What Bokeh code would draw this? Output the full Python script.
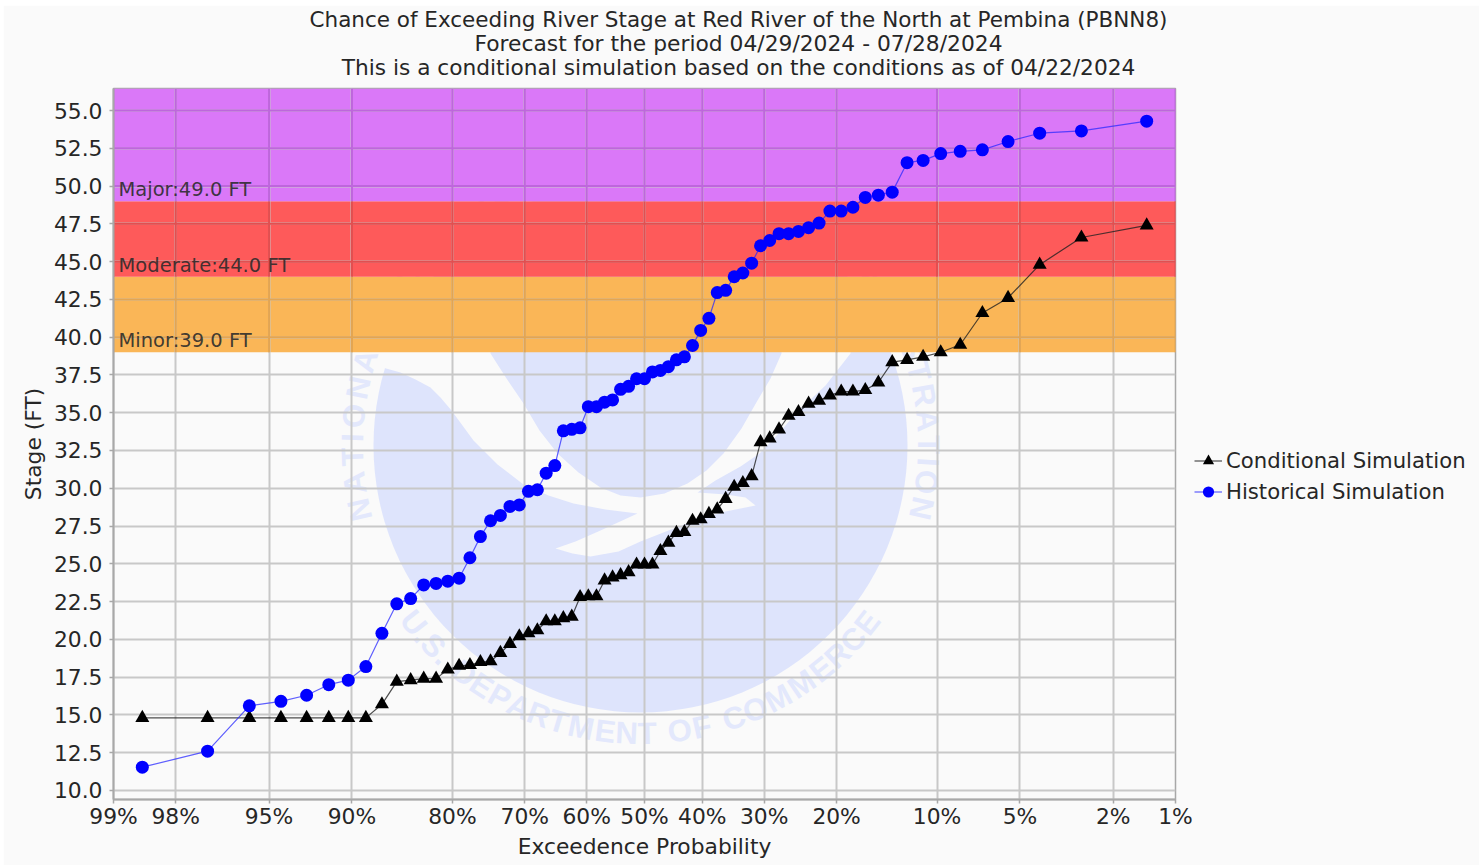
from statistics import NormalDist
from math import cos, sin, radians
from bokeh.plotting import figure
from bokeh.models import Range1d, FixedTicker, Label, Legend, LegendItem
from bokeh.core.properties import value
from bokeh.embed import file_html
from bokeh.resources import INLINE

TITLES = ["Chance of Exceeding River Stage at Red River of the North at Pembina (PBNN8)",
          "Forecast for the period 04/29/2024 - 07/28/2024",
          "This is a conditional simulation based on the conditions as of 04/22/2024"]
TITLE_SIZE = ["21.5px", "21.8px", "21.7px"]
PROB_TICKS = [99, 98, 95, 90, 80, 70, 60, 50, 40, 30, 20, 10, 5, 2, 1]
STAGE_TICKS = [10.0, 12.5, 15.0, 17.5, 20.0, 22.5, 25.0, 27.5, 30.0, 32.5, 35.0, 37.5,
               40.0, 42.5, 45.0, 47.5, 50.0, 52.5, 55.0]
THRESH_NAMES = ["Minor", "Moderate", "Major"]
THRESH_LOW = [39.0, 44.0, 49.0]
THRESH_COLORS = ["#FAB657", "#FE5A5A", "#DA78F8"]
THRESH_GRID = ["#E3A552", "#E24F50", "#BE66DC"]

# exceedance probability (%) of each point, as read along the axis
prob = [98.61, 97.22, 95.83, 94.44, 93.06, 91.67, 90.28, 88.89, 87.5, 86.11, 84.72, 83.33,
        81.94, 80.56, 79.17, 77.78, 76.39, 75.0, 73.61, 72.22, 70.83, 69.44, 68.06, 66.67,
        65.28, 63.89, 62.5, 61.11, 59.72, 58.33, 56.94, 55.56, 54.17, 52.78, 51.39, 50.0,
        48.61, 47.22, 45.83, 44.44, 43.06, 41.67, 40.28, 38.89, 37.5, 36.11, 34.72, 33.33,
        31.94, 30.56, 29.17, 27.78, 26.39, 25.0, 23.61, 22.22, 20.83, 19.44, 18.06, 16.67,
        15.28, 13.89, 12.5, 11.11, 9.72, 8.33, 6.94, 5.56, 4.17, 2.78, 1.39]
conditional = [14.8, 14.8, 14.8, 14.8, 14.8, 14.8, 14.8, 14.8, 15.7, 17.2, 17.3, 17.4, 17.4,
               18.0, 18.25, 18.3, 18.5, 18.55, 19.1, 19.7, 20.2, 20.4, 20.6, 21.2, 21.2, 21.4,
               21.5, 22.8, 22.85, 22.85, 23.9, 24.1, 24.25, 24.45, 24.95, 24.95, 24.95, 25.85,
               26.4, 27.05, 27.1, 27.85, 27.95, 28.3, 28.6, 29.3, 30.1, 30.35, 30.8, 33.05,
               33.3, 33.9, 34.8, 35.05, 35.6, 35.8, 36.15, 36.4, 36.4, 36.5, 37.0, 38.35, 38.5,
               38.7, 39.0, 39.5, 41.6, 42.6, 44.8, 46.6, 47.4]
historical = [11.54, 12.6, 15.6, 15.9, 16.3, 17.0, 17.3, 18.2, 20.4, 22.35, 22.7, 23.6, 23.7,
              23.85, 24.05, 25.4, 26.8, 27.85, 28.2, 28.8, 28.9, 29.8, 29.9, 31.0, 31.5, 33.8,
              33.9, 34.0, 35.4, 35.4, 35.7, 35.85, 36.55, 36.75, 37.25, 37.25, 37.7, 37.8,
              38.05, 38.5, 38.7, 39.45, 40.45, 41.25, 42.95, 43.1, 44.0, 44.25, 44.9, 46.05,
              46.4, 46.85, 46.85, 47.0, 47.25, 47.55, 48.35, 48.35, 48.6, 49.25, 49.4, 49.6,
              51.55, 51.7, 52.15, 52.3, 52.4, 52.95, 53.5, 53.65, 54.3]

TXT = "#262626"
nd = NormalDist()
def z(pct):
    return round(nd.inv_cdf(1 - pct / 100.0), 6)

XSPAN = z(1)
YMIN, YMAX = 9.4, 56.46
FW, FH, LEFT, TOP = 1062, 711, 113, 88
def X(px):
    return (px - LEFT) / FW * 2 * XSPAN - XSPAN
def Y(py):
    return YMAX - (py - TOP) / FH * (YMAX - YMIN)

p = figure(frame_width=FW, frame_height=FH, min_border_left=110, min_border_top=83,
           min_border_right=297, min_border_bottom=66,
           x_range=Range1d(-XSPAN, XSPAN), y_range=Range1d(YMIN, YMAX),
           output_backend="svg", toolbar_location=None, background_fill_color="#fafafa",
           border_fill_color="#fafafa")
p.margin = (5, 0, 0, 3)

# NOAA watermark (drawn below the flood bands)
BLUE = "#DEE4FC"
BLUE_TEXT = "#E3E8FC"
BG = "#fafafa"
p.ellipse([X(640)], [Y(445)], width=534 / FW * 2 * XSPAN, height=534 / FH * (YMAX - YMIN),
          fill_color=BLUE, line_color=None, level="image")
swoosh = [(360, 340), (382, 367), (400, 372), (415, 379), (430, 387), (440, 397), (451, 410),
          (473, 440),
          (497, 464), (523, 484), (548, 495), (573, 503), (605, 509), (637, 513), (600, 530),
          (575, 541), (555, 548), (572, 553), (590, 556), (618, 551), (640, 541), (668, 530),
          (697, 519), (725, 511), (755, 505), (745, 497), (725, 494), (697, 492), (715, 480),
          (740, 466), (759, 453), (780, 431), (795, 413), (825, 385), (850, 353), (850, 340),
          (781, 340), (781, 353), (770, 378), (757, 400), (741, 428), (723, 453), (706, 470),
          (687, 483), (664, 493), (640, 497), (620, 495), (600, 487), (578, 472), (557, 453),
          (539, 430), (523, 403), (506, 378), (490, 353), (490, 340)]
p.patch([X(a) for a, b in swoosh], [Y(b) for a, b in swoosh], fill_color=BG, line_color=None,
        level="image")

def ring(text, start, end, radius, top):
    w = {".": .45, " ": .55, "I": .5, "M": 1.35, "L": .9, "T": .95, "S": 1.0, "O": 1.15, "C": 1.1}
    weights = [w.get(c, 1.05) for c in text]
    edges = [sum(weights[:i]) + weights[i] / 2 for i in range(len(text))]
    tot = sum(weights) - weights[0] / 2 - weights[-1] / 2
    xs, ys, ang = [], [], []
    for e, c in zip(edges, text):
        a = start + (end - start) * (e - weights[0] / 2) / tot
        xs.append(X(640 + radius * cos(radians(a))))
        ys.append(Y(445 - radius * sin(radians(a))))
        ang.append(radians(a - 90) if top else radians(a + 90))
    p.text(xs, ys, text=list(text), angle=ang, text_font=value("Liberation Sans"),
           text_font_size="31px", text_font_style="bold", text_color=BLUE_TEXT,
           text_align="center", text_baseline="middle", level="image")

ring("NATIONAL OCEANIC", 192.9, 119, 288, True)
ring("ADMINISTRATION", 46, -12.6, 288, True)
ring("U.S. DEPARTMENT OF COMMERCE", 218, 322, 288, False)

# flood bands
tops = THRESH_LOW[1:] + [YMAX]
p.quad(left=-XSPAN, right=XSPAN, bottom=THRESH_LOW, top=tops, fill_color=THRESH_COLORS,
       line_color=None, level="image")

# gridlines seen through the bands
ticks_x = [z(v) for v in PROB_TICKS]
for low, high, col in zip(THRESH_LOW, tops, THRESH_GRID):
    in_band = [s for s in STAGE_TICKS if low < s < high]
    p.segment(x0=ticks_x, x1=ticks_x, y0=low, y1=high, line_color=col, line_width=2)
    p.segment(x0=-XSPAN, x1=XSPAN, y0=in_band, y1=in_band, line_color=col, line_width=2)

for name, low in zip(THRESH_NAMES, THRESH_LOW):
    p.add_layout(Label(x=X(118), y=low, y_offset=0, text=f"{name}:{low:.1f} FT",
                       text_font="DejaVu Sans", text_font_size="19.5px", text_color="#2b2b2b",
                       text_alpha=0.9))

xs = [z(v) for v in prob]
r1 = p.line(xs, conditional, line_color="#222222", line_width=1.2, line_alpha=0.8)
r2 = p.scatter(xs, conditional, marker="triangle", size=14, fill_color="black", line_color="black", line_width=0)
r3 = p.line(xs, historical, line_color="#2a2aff", line_width=1.2, line_alpha=0.75)
r4 = p.scatter(xs, historical, marker="circle", size=13, fill_color="#0000ff", line_color=None)

ax = p.xaxis[0]
ax.ticker = FixedTicker(ticks=ticks_x)
ax.major_label_overrides = {t: f"{v}%" for t, v in zip(ticks_x, PROB_TICKS)}
ax.axis_label = "Exceedence Probability"
ay = p.yaxis[0]
ay.ticker = FixedTicker(ticks=STAGE_TICKS)
ay.major_label_overrides = {t: f"{t:.1f}" for t in STAGE_TICKS}
ay.axis_label = "Stage (FT)"
for a in (ax, ay):
    a.axis_line_color = "#a8a8a8"
    a.axis_line_width = 2
    a.major_tick_line_color = "#a8a8a8"
    a.major_tick_line_width = 1.5
    a.major_tick_out = 4
    a.major_tick_in = 0
    a.minor_tick_line_color = None
    a.major_label_text_font = "DejaVu Sans"
    a.major_label_text_font_size = "21.8px"
    a.major_label_text_color = TXT
    a.axis_label_text_font = "DejaVu Sans"
    a.axis_label_text_font_size = "21.8px"
    a.axis_label_text_font_style = "normal"
    a.axis_label_text_color = TXT
ax.major_label_standoff = 0
ax.axis_label_standoff = 2
ay.major_label_standoff = 7
ay.axis_label_standoff = 5
for g in (p.xgrid[0], p.ygrid[0]):
    g.grid_line_color = "#c8c8c8"
    g.grid_line_width = 2
    g.level = "underlay"
p.outline_line_color = "#a8a8a8"
p.outline_line_width = 1.5

for t, size, py in zip(TITLES, TITLE_SIZE, (19, 43, 67)):
    p.add_layout(Label(x=X(738), y=Y(py), text=t, text_align="center", text_baseline="middle",
                       text_font="DejaVu Sans", text_font_size=size, text_color=TXT), "above")

legend = Legend(items=[LegendItem(label="Conditional Simulation", renderers=[r1, r2]),
                       LegendItem(label="Historical Simulation", renderers=[r3, r4])],
                location=(19, 292), margin=0, padding=0, border_line_color=None,
                background_fill_alpha=0, glyph_width=28, glyph_height=31, label_standoff=4,
                spacing=0, label_text_font="DejaVu Sans", label_text_font_size="21.2px",
                label_text_color=TXT)
p.add_layout(legend, "right")

open("out.html", "w").write(file_html(p, INLINE))
